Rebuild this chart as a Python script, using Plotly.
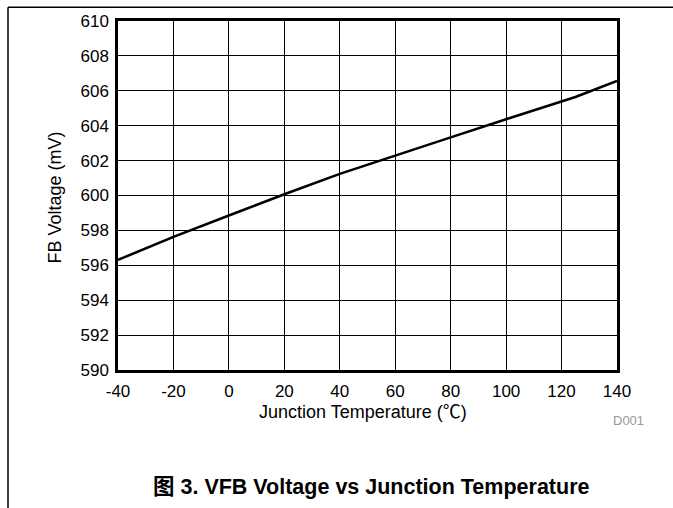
import plotly.graph_objects as go

temperature = [-40, -20, 0, 20, 40, 60, 80, 100, 120, 125, 140]
fb_voltage = [596.31, 597.63, 598.85, 600.07, 601.24, 602.30, 603.33, 604.37, 605.38, 605.65, 606.57]

x_ticks = [-40, -20, 0, 20, 40, 60, 80, 100, 120, 140]
y_ticks = [590, 592, 594, 596, 598, 600, 602, 604, 606, 608, 610]

W, H = 673, 508
L, R, T, B = 118, 617, 16, 370
FONT = "Liberation Sans, Arial, Noto Sans CJK SC, sans-serif"


def px(x):
    return (x - L) / (R - L)


def py(y):
    return (B - y) / (B - T)


fig = go.Figure()
fig.add_trace(go.Scatter(x=temperature, y=fb_voltage, mode="lines",
                         line=dict(color="black", width=2.6), showlegend=False,
                         hoverinfo="skip"))

fig.update_layout(
    width=W, height=H,
    margin=dict(l=L, r=W - R, t=T, b=H - B),
    paper_bgcolor="white", plot_bgcolor="white",
    font=dict(family=FONT, size=17, color="black"),
    xaxis=dict(range=[-40, 140], tickvals=x_ticks, ticktext=[str(v) for v in x_ticks],
               showgrid=True, gridcolor="black", gridwidth=1,
               showline=True, linecolor="black", linewidth=2.5, mirror=True,
               ticks="", ticklabelstandoff=4, zeroline=False, fixedrange=True),
    yaxis=dict(range=[590, 610], tickvals=y_ticks, ticktext=[str(v) for v in y_ticks],
               showgrid=True, gridcolor="black", gridwidth=1,
               showline=True, linecolor="black", linewidth=2.5, mirror=True,
               ticks="", ticklabelstandoff=3, zeroline=False, fixedrange=True),
    shapes=[
        dict(type="line", xref="paper", yref="paper", x0=px(8), x1=px(674), y0=py(2), y1=py(2),
             line=dict(color="black", width=1.5)),
        dict(type="line", xref="paper", yref="paper", x0=px(8), x1=px(8), y0=py(2), y1=py(510),
             line=dict(color="black", width=1.5)),
    ],
    annotations=[
        dict(text="FB Voltage (mV)", xref="paper", yref="paper", x=px(55), y=py(195),
             textangle=-90, showarrow=False, xanchor="center", yanchor="middle",
             font=dict(size=18)),
        dict(text="Junction Temperature (℃)", xref="paper", yref="paper", x=px(363), y=py(413),
             showarrow=False, xanchor="center", yanchor="middle", font=dict(size=18)),
        dict(text="D001", xref="paper", yref="paper", x=px(628), y=py(421),
             showarrow=False, xanchor="center", yanchor="middle",
             font=dict(size=13, color="#999999")),
        dict(text="<b>图 3. VFB Voltage vs Junction Temperature</b>", xref="paper", yref="paper",
             x=px(371), y=py(489), showarrow=False, xanchor="center", yanchor="middle",
             font=dict(size=21.5)),
    ],
)

fig.write_html("out.html")
